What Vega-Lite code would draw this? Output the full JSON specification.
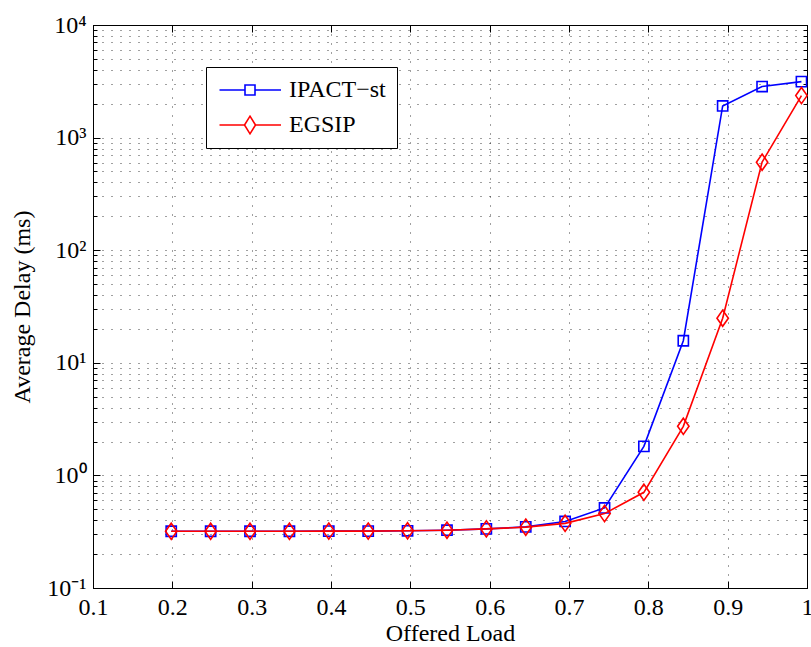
{
  "$schema": "https://vega.github.io/schema/vega-lite/v6.json",
  "width": 714,
  "height": 563,
  "autosize": "none",
  "padding": {"left": 93, "top": 25, "right": 4, "bottom": 59},
  "background": "white",
  "config": {
    "view": {"stroke": "black", "strokeWidth": 1},
    "font": "Liberation Serif, Times New Roman, serif"
  },
  "data": {
    "values": [
      {"series": "IPACT−st", "x": 0.1986, "y": 0.319},
      {"series": "IPACT−st", "x": 0.2483, "y": 0.319},
      {"series": "IPACT−st", "x": 0.2979, "y": 0.319},
      {"series": "IPACT−st", "x": 0.3476, "y": 0.319},
      {"series": "IPACT−st", "x": 0.3972, "y": 0.32},
      {"series": "IPACT−st", "x": 0.4469, "y": 0.32},
      {"series": "IPACT−st", "x": 0.4965, "y": 0.322},
      {"series": "IPACT−st", "x": 0.5462, "y": 0.326},
      {"series": "IPACT−st", "x": 0.5958, "y": 0.335},
      {"series": "IPACT−st", "x": 0.6455, "y": 0.349},
      {"series": "IPACT−st", "x": 0.6951, "y": 0.39},
      {"series": "IPACT−st", "x": 0.7448, "y": 0.514},
      {"series": "IPACT−st", "x": 0.7944, "y": 1.81},
      {"series": "IPACT−st", "x": 0.8441, "y": 15.7},
      {"series": "IPACT−st", "x": 0.8937, "y": 1910},
      {"series": "IPACT−st", "x": 0.9434, "y": 2840},
      {"series": "IPACT−st", "x": 0.993, "y": 3140},
      {"series": "EGSIP", "x": 0.1986, "y": 0.319},
      {"series": "EGSIP", "x": 0.2483, "y": 0.319},
      {"series": "EGSIP", "x": 0.2979, "y": 0.319},
      {"series": "EGSIP", "x": 0.3476, "y": 0.319},
      {"series": "EGSIP", "x": 0.3972, "y": 0.32},
      {"series": "EGSIP", "x": 0.4469, "y": 0.32},
      {"series": "EGSIP", "x": 0.4965, "y": 0.322},
      {"series": "EGSIP", "x": 0.5462, "y": 0.326},
      {"series": "EGSIP", "x": 0.5958, "y": 0.335},
      {"series": "EGSIP", "x": 0.6455, "y": 0.347},
      {"series": "EGSIP", "x": 0.6951, "y": 0.375},
      {"series": "EGSIP", "x": 0.7448, "y": 0.458},
      {"series": "EGSIP", "x": 0.7944, "y": 0.708},
      {"series": "EGSIP", "x": 0.8441, "y": 2.73},
      {"series": "EGSIP", "x": 0.8937, "y": 24.9},
      {"series": "EGSIP", "x": 0.9434, "y": 605},
      {"series": "EGSIP", "x": 0.993, "y": 2360}
    ]
  },
  "encoding": {
    "x": {"field": "x", "type": "quantitative", "scale": {"domain": [0.1, 1.0], "nice": false, "zero": false}},
    "y": {"field": "y", "type": "quantitative", "scale": {"type": "log", "domain": [0.1, 10000], "nice": false}}
  },
  "resolve": {"axis": {"x": "independent", "y": "independent"}},
  "layer": [
    {
      "transform": [{"filter": "datum.series == 'IPACT−st'"}],
      "mark": {"type": "line", "color": "#0000ff", "strokeWidth": 1.6},
      "encoding": {
        "x": {"field": "x", "type": "quantitative",
          "axis": {
            "orient": "bottom", "title": "Offered Load",
            "values": [0.1, 0.2, 0.3, 0.4, 0.5, 0.6, 0.7, 0.8, 0.9, 1.0],
            "format": ".1~f",
            "labelFont": "Liberation Serif, Times New Roman, serif", "labelFontSize": 24, "labelColor": "black",
            "labelPadding": 14, "labelFlush": false,
            "titleFont": "Liberation Serif, Times New Roman, serif", "titleFontSize": 24, "titleFontWeight": "normal", "titleColor": "black",
            "titlePadding": 2,
            "domainColor": "black", "tickColor": "black", "tickSize": -7,
            "grid": true, "gridColor": "black", "gridOpacity": 0.75, "gridDash": [1, 8]
          }
        },
        "y": {"field": "y", "type": "quantitative",
          "axis": {
            "orient": "left", "title": "Average Delay (ms)",
            "values": [0.1, 0.2, 0.3, 0.4, 0.5, 0.6, 0.7, 0.8, 0.9, 1, 2, 3, 4, 5, 6, 7, 8, 9, 10, 20, 30, 40, 50, 60, 70, 80, 90, 100, 200, 300, 400, 500, 600, 700, 800, 900, 1000, 2000, 3000, 4000, 5000, 6000, 7000, 8000, 9000, 10000],
            "labelExpr": "datum.value == 0.1 ? '10⁻¹' : datum.value == 1 ? '10⁰' : datum.value == 10 ? '10¹' : datum.value == 100 ? '10²' : datum.value == 1000 ? '10³' : datum.value == 10000 ? '10⁴' : ''",
            "labelFont": "Liberation Serif, Times New Roman, serif", "labelFontSize": 24, "labelColor": "black",
            "labelPadding": 14, "labelFlush": false, "labelOverlap": false,
            "titleFont": "Liberation Serif, Times New Roman, serif", "titleFontSize": 24, "titleFontWeight": "normal", "titleColor": "black",
            "titlePadding": 12,
            "domainColor": "black", "tickColor": "black",
            "tickSize": {"condition": {"test": "datum.value == 0.1 || datum.value == 1 || datum.value == 10 || datum.value == 100 || datum.value == 1000 || datum.value == 10000", "value": -7}, "value": -4},
            "grid": true, "gridColor": "black", "gridOpacity": 0.75, "gridDash": [1, 8]
          }
        }
      }
    },
    {
      "transform": [{"filter": "datum.series == 'IPACT−st'"}],
      "mark": {"type": "point", "shape": "M-0.85,-0.85H0.85V0.85H-0.85Z", "size": 144, "filled": false, "color": "#0000ff", "strokeWidth": 1.6, "opacity": 1},
      "encoding": {
        "x": {"field": "x", "type": "quantitative", "axis": null},
        "y": {"field": "y", "type": "quantitative", "axis": null}
      }
    },
    {
      "transform": [{"filter": "datum.series == 'EGSIP'"}],
      "mark": {"type": "line", "color": "#ff0000", "strokeWidth": 1.6},
      "encoding": {
        "x": {"field": "x", "type": "quantitative", "axis": null},
        "y": {"field": "y", "type": "quantitative", "axis": null}
      }
    },
    {
      "transform": [{"filter": "datum.series == 'EGSIP'"}],
      "mark": {"type": "point", "shape": "M0,-1.35L0.95,0L0,1.35L-0.95,0Z", "size": 144, "filled": false, "color": "#ff0000", "strokeWidth": 1.6, "opacity": 1},
      "encoding": {
        "x": {"field": "x", "type": "quantitative", "axis": null},
        "y": {"field": "y", "type": "quantitative", "axis": null}
      }
    },
    {
      "transform": [{"filter": "false"}],
      "mark": {"type": "point", "filled": false, "strokeWidth": 1.6, "opacity": 1},
      "encoding": {
        "x": {"field": "x", "type": "quantitative",
          "axis": {
            "orient": "top", "title": null, "labels": false,
            "values": [0.1, 0.2, 0.3, 0.4, 0.5, 0.6, 0.7, 0.8, 0.9, 1.0],
            "domainColor": "black", "tickColor": "black", "tickSize": -7, "grid": false
          }
        },
        "y": {"field": "y", "type": "quantitative",
          "axis": {
            "orient": "right", "title": null, "labels": false,
            "values": [0.1, 0.2, 0.3, 0.4, 0.5, 0.6, 0.7, 0.8, 0.9, 1, 2, 3, 4, 5, 6, 7, 8, 9, 10, 20, 30, 40, 50, 60, 70, 80, 90, 100, 200, 300, 400, 500, 600, 700, 800, 900, 1000, 2000, 3000, 4000, 5000, 6000, 7000, 8000, 9000, 10000],
            "domainColor": "black", "tickColor": "black",
            "tickSize": {"condition": {"test": "datum.value == 0.1 || datum.value == 1 || datum.value == 10 || datum.value == 100 || datum.value == 1000 || datum.value == 10000", "value": -7}, "value": -4},
            "grid": false
          }
        },
        "color": {"field": "series", "type": "nominal",
          "scale": {"domain": ["IPACT−st", "EGSIP"], "range": ["#0000ff", "#ff0000"]},
          "legend": {"orient": "none", "legendX": 113, "legendY": 42, "title": null,
            "symbolSize": 400, "symbolStrokeWidth": 1.6, "symbolOffset": 21, "labelOffset": 27,
            "labelFont": "Liberation Serif, Times New Roman, serif", "labelFontSize": 24, "labelColor": "black",
            "strokeColor": "black", "fillColor": "white", "padding": 11, "rowPadding": 11}
        },
        "shape": {"field": "series", "type": "nominal",
          "scale": {"domain": ["IPACT−st", "EGSIP"], "range": ["M-3.05,0H-0.5M0.5,0H3.1M-0.5,-0.5H0.5V0.5H-0.5Z", "M-3.05,0H-0.55M0.55,0H3.1M0,-0.88L0.55,0L0,0.88L-0.55,0Z"]},
          "legend": {"orient": "none", "legendX": 113, "legendY": 42, "title": null,
            "symbolSize": 400, "symbolStrokeWidth": 1.6, "symbolOffset": 21, "labelOffset": 27,
            "labelFont": "Liberation Serif, Times New Roman, serif", "labelFontSize": 24, "labelColor": "black",
            "strokeColor": "black", "fillColor": "white", "padding": 11, "rowPadding": 11}
        }
      }
    }
  ]
}
